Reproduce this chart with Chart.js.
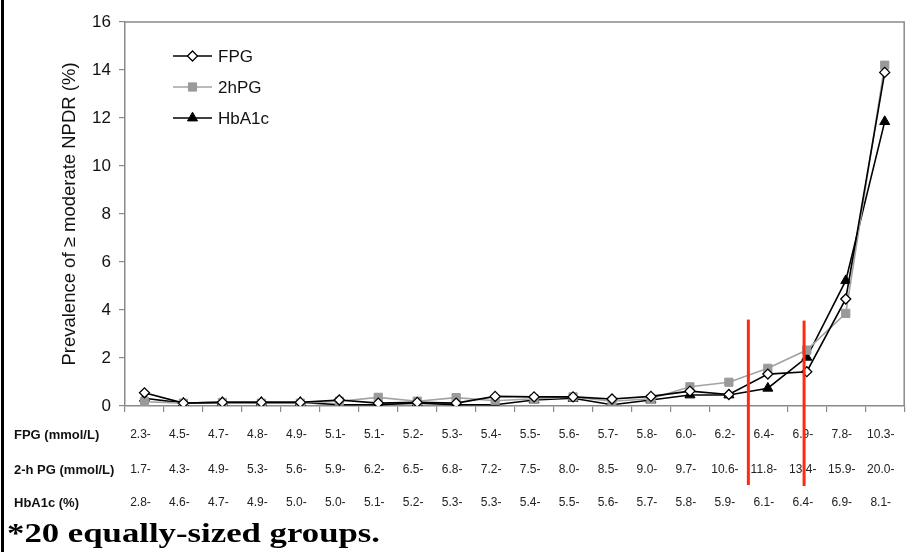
<!DOCTYPE html>
<html>
<head>
<meta charset="utf-8">
<script src="https://cdn.jsdelivr.net/npm/chart.js@4.4.0/dist/chart.umd.min.js"></script>
<style>
  html, body { margin: 0; padding: 0; background: #fff; }
  #wrap { width: 911px; height: 552px; position: relative; }
</style>
</head>
<body>
<div id="wrap"><canvas id="c" width="911" height="552"></canvas></div>
<script>
// ---- data ----
const fpgLabels   = ["2.3-","4.5-","4.7-","4.8-","4.9-","5.1-","5.1-","5.2-","5.3-","5.4-","5.5-","5.6-","5.7-","5.8-","6.0-","6.2-","6.4-","6.9-","7.8-","10.3-"];
const pg2hLabels  = ["1.7-","4.3-","4.9-","5.3-","5.6-","5.9-","6.2-","6.5-","6.8-","7.2-","7.5-","8.0-","8.5-","9.0-","9.7-","10.6-","11.8-","13.4-","15.9-","20.0-"];
const hba1cLabels = ["2.8-","4.6-","4.7-","4.9-","5.0-","5.0-","5.1-","5.2-","5.3-","5.3-","5.4-","5.5-","5.6-","5.7-","5.8-","5.9-","6.1-","6.4-","6.9-","8.1-"];
const rowTitles   = ["FPG (mmol/L)","2-h PG (mmol/L)","HbA1c (%)"];
const seriesNames = ["FPG","2hPG","HbA1c"];
const fpgValues   = [0.55,0.12,0.15,0.15,0.15,0.25,0.12,0.15,0.12,0.40,0.38,0.38,0.29,0.40,0.62,0.48,1.33,1.43,4.46,13.9];
const pg2hValues  = [0.18,0.12,0.15,0.12,0.12,0.20,0.36,0.20,0.35,0.22,0.30,0.38,0.20,0.30,0.80,0.99,1.57,2.33,3.86,14.2];
const hba1cValues = [0.32,0.12,0.15,0.15,0.15,0.05,0.05,0.12,0.05,0.05,0.25,0.32,0.05,0.25,0.46,0.46,0.74,2.03,5.22,11.85];
const cutPoints   = [15.5, 16.93];   // positions of the red cut-off lines (category units)
const cutTopValue = 3.6;             // y value where red lines start
const yTitle = "Prevalence of \u2265 moderate NPDR (%)";
const footnote = "*20 equally-sized groups.";

const SANS = "'Liberation Sans', Arial, sans-serif";
const SERIF = "'Liberation Serif', 'Times New Roman', serif";
const AXIS_GRAY = '#8a8a8a';

const extras = {
  id: 'extras',
  afterDraw(chart) {
    const ctx = chart.ctx;
    const ca = chart.chartArea;
    const xs = chart.scales.x, ys = chart.scales.y;
    ctx.save();
    // plot frame: top and right
    ctx.strokeStyle = AXIS_GRAY; ctx.lineWidth = 1.5;
    ctx.beginPath();
    ctx.moveTo(ca.left, ca.top); ctx.lineTo(ca.right, ca.top); ctx.lineTo(ca.right, ca.bottom);
    ctx.stroke();
    // left black border of the figure
    ctx.fillStyle = '#000';
    ctx.fillRect(1, 0, 3, chart.height);

    // legend
    const legY = [56, 87, 118];
    chart.data.datasets.forEach((ds, i) => {
      const y = legY[i];
      const x0 = ca.left + 48, x1 = ca.left + 87;
      ctx.strokeStyle = ds.borderColor; ctx.lineWidth = ds.borderWidth;
      ctx.beginPath(); ctx.moveTo(x0, y); ctx.lineTo(x1, y); ctx.stroke();
      ctx.fillStyle = ds.pointBackgroundColor; ctx.strokeStyle = ds.pointBorderColor;
      ctx.lineWidth = ds.pointBorderWidth;
      Chart.helpers.drawPoint(ctx, {pointStyle: ds.pointStyle, radius: ds.pointRadius, borderWidth: ds.pointBorderWidth, rotation: 0}, (x0 + x1) / 2, y);
      ctx.fillStyle = '#111';
      ctx.font = "17px " + SANS;
      ctx.textAlign = 'left'; ctx.textBaseline = 'middle';
      ctx.fillText(ds.label, x1 + 6, y + 1);
    });

    // category label rows
    const rows = [fpgLabels, pg2hLabels, hba1cLabels];
    const rowY = [435, 470, 503];
    rows.forEach((labels, r) => {
      ctx.fillStyle = '#111';
      ctx.font = "bold 13px " + SANS;
      ctx.textAlign = 'left'; ctx.textBaseline = 'middle';
      ctx.fillText(rowTitles[r], 14, rowY[r]);
      ctx.font = "12px " + SANS;
      ctx.fillStyle = '#222';
      ctx.textAlign = 'center';
      labels.forEach((t, i) => {
        ctx.fillText(t, xs.getPixelForValue(i) - 4, rowY[r]);
      });
    });

    // red cut-off lines
    ctx.strokeStyle = '#ff2a10'; ctx.lineWidth = 3;
    cutPoints.forEach((v, k) => {
      const x = xs.getPixelForValue(v);
      ctx.beginPath();
      ctx.moveTo(x, ys.getPixelForValue(cutTopValue) + k);
      ctx.lineTo(x, ca.bottom + 79 + k);
      ctx.stroke();
    });

    // footnote
    ctx.fillStyle = '#000';
    ctx.font = "bold 27px " + SERIF;
    ctx.textAlign = 'left'; ctx.textBaseline = 'alphabetic';
    const w = ctx.measureText(footnote).width;
    const sx = 373 / w;
    ctx.translate(7, 542);
    ctx.scale(sx, 1);
    ctx.fillText(footnote, 0, 0);
    ctx.restore();
  }
};

new Chart(document.getElementById('c'), {
  type: 'line',
  data: {
    labels: fpgLabels,
    datasets: [
      { label: seriesNames[0], data: fpgValues, borderColor: '#000', borderWidth: 1.6,
        pointStyle: 'rectRot', pointRadius: 5, pointBackgroundColor: '#fff', pointBorderColor: '#000', pointBorderWidth: 1.3, tension: 0, fill: false },
      { label: seriesNames[1], data: pg2hValues, borderColor: '#a3a3a3', borderWidth: 1.6,
        pointStyle: 'rect', pointRadius: 5.8, pointBackgroundColor: '#9a9a9a', pointBorderColor: '#9a9a9a', pointBorderWidth: 1, tension: 0, fill: false },
      { label: seriesNames[2], data: hba1cValues, borderColor: '#000', borderWidth: 1.6,
        pointStyle: 'triangle', pointRadius: 5.8, pointBackgroundColor: '#000', pointBorderColor: '#000', pointBorderWidth: 1, tension: 0, fill: false }
    ]
  },
  options: {
    responsive: false,
    animation: false,
    layout: { padding: { left: 0, right: 6, top: 22, bottom: 0 } },
    plugins: { legend: { display: false }, tooltip: { enabled: false }, title: { display: false } },
    scales: {
      x: {
        type: 'category', offset: true,
        grid: { offset: true, drawOnChartArea: false, tickLength: 6, color: AXIS_GRAY, lineWidth: 1.2 },
        border: { color: AXIS_GRAY, width: 1.5 },
        ticks: { display: false },
        afterFit(s) { s.height = 146; }
      },
      y: {
        min: 0, max: 16,
        ticks: { stepSize: 2, color: '#111', padding: 8, font: { family: SANS, size: 17 } },
        grid: { drawOnChartArea: false, tickLength: 6, color: AXIS_GRAY, lineWidth: 1.2 },
        border: { color: AXIS_GRAY, width: 1.5 },
        title: { display: true, text: yTitle, color: '#111', font: { family: SANS, size: 18.5 }, padding: { top: 59, bottom: 0 } },
        afterFit(s) { s.width = 125; }
      }
    }
  },
  plugins: [extras]
});
</script>
</body>
</html>
